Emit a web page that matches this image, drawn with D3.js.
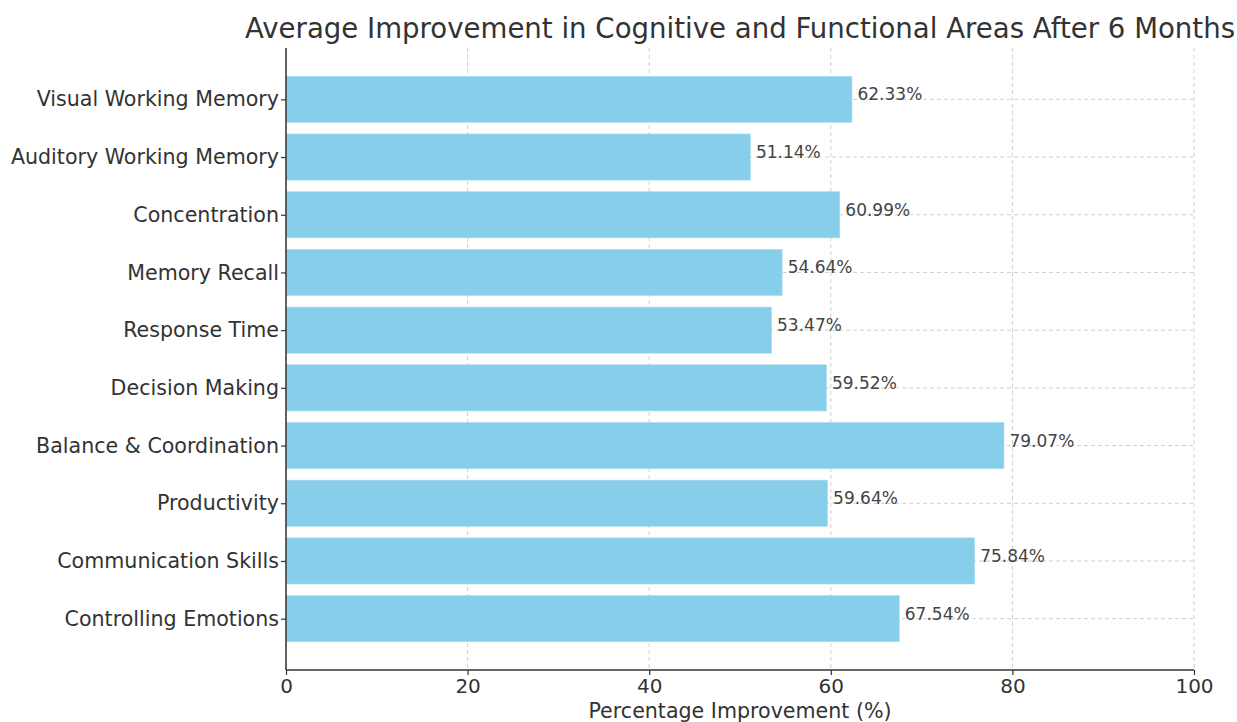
<!DOCTYPE html>
<html><head><meta charset="utf-8">
<script src="https://cdn.jsdelivr.net/npm/d3@7"></script>
<style>
html,body{margin:0;padding:0;background:#fff;}
svg{display:block;font-family:"DejaVu Sans",sans-serif;}
</style></head><body>
<svg id="c" width="1237" height="722"></svg>
<script>
const categories = ["Visual Working Memory","Auditory Working Memory","Concentration","Memory Recall","Response Time","Decision Making","Balance & Coordination","Productivity","Communication Skills","Controlling Emotions"];
const values = [62.33,51.14,60.99,54.64,53.47,59.52,79.07,59.64,75.84,67.54];
const xTicks = [0,20,40,60,80,100];
const title = "Average Improvement in Cognitive and Functional Areas After 6 Months";
const xLabel = "Percentage Improvement (%)";

const svg = d3.select("#c");
const L = 286, R = 1194, T = 48, B = 670;
const x = d3.scaleLinear().domain([0,100]).range([L,R]);
const n = categories.length;
const yLin = d3.scaleLinear().domain([-0.89, n - 1 + 0.89]).range([T,B]);
const idx = d3.scaleOrdinal().domain(categories).range(d3.range(n));
const yC = c => yLin(idx(c));
const bh = yLin(0.8) - yLin(0);

// grid
const g = svg.append("g");
g.selectAll("line.vg").data(xTicks).join("line")
  .attr("x1", d=>x(d)).attr("x2", d=>x(d)).attr("y1", T).attr("y2", B)
  .attr("stroke","#d0d0d0").attr("stroke-width",1).attr("stroke-dasharray","4,3");
g.selectAll("line.hg").data(categories).join("line")
  .attr("x1", L).attr("x2", R).attr("y1", d=>yC(d)).attr("y2", d=>yC(d))
  .attr("stroke","#d0d0d0").attr("stroke-width",1).attr("stroke-dasharray","4,3");

// bars
svg.append("g").selectAll("rect").data(categories).join("rect")
  .attr("x", x(0)).attr("y", d=>yC(d)-bh/2)
  .attr("width", (d,i)=>x(values[i])-x(0)).attr("height", bh)
  .attr("fill","#87CEEB").attr("stroke","#a9dcef").attr("stroke-width",0.6);

// value labels
svg.append("g").selectAll("text").data(categories).join("text")
  .attr("x", (d,i)=>x(values[i]+0.5)+1).attr("y", d=>yC(d)+1)
  .attr("font-size","17px").attr("fill","#444")
  .text((d,i)=>values[i].toFixed(2)+"%");

// axes
const xAxis = svg.append("g").attr("transform",`translate(0,${B})`)
  .call(d3.axisBottom(x).tickValues(xTicks).tickFormat(d3.format("d")).tickSize(5).tickPadding(3));
const yAxis = svg.append("g").attr("transform",`translate(${L},0)`)
  .call(d3.axisLeft(d3.scalePoint().domain(categories).range([yLin(0),yLin(n-1)])).tickSize(5).tickPadding(2));
[xAxis,yAxis].forEach(a=>{
  a.select(".domain").attr("stroke","#333").attr("stroke-width",1.5);
  a.selectAll(".tick line").attr("stroke","#333").attr("stroke-width",1.2);
  a.selectAll(".tick text").attr("fill","#333").attr("font-family","DejaVu Sans");
});
xAxis.selectAll(".tick text").attr("font-size","20px");
yAxis.selectAll(".tick text").attr("font-size","20.6px");
xAxis.select(".domain").attr("d", `M${L},0H${R}`);
yAxis.select(".domain").attr("d", `M0,${T}V${B}`);
xAxis.selectAll(".tick text").attr("dy","0.75em");

svg.append("text").attr("x",(L+R)/2).attr("y",718).attr("text-anchor","middle")
  .attr("font-size","20.6px").attr("fill","#333").text(xLabel);
svg.append("text").attr("x",740).attr("y",38).attr("text-anchor","middle")
  .attr("font-size","27.6px").attr("fill","#333").text(title);
</script>
</body></html>
